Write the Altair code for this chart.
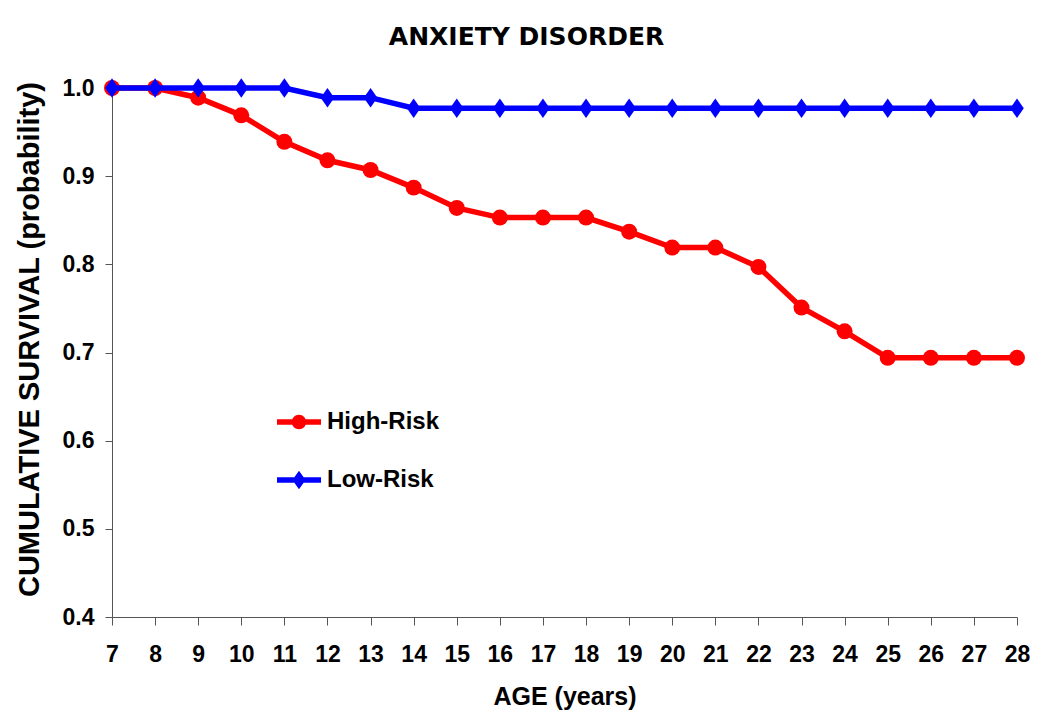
import altair as alt
import pandas as pd

ages = [7, 8, 9, 10, 11, 12, 13, 14, 15, 16, 17, 18, 19, 20, 21, 22, 23, 24, 25, 26, 27, 28]
high_risk = [1.0, 1.0, 0.989, 0.969, 0.939, 0.918, 0.907, 0.887, 0.864, 0.853, 0.853, 0.853,
             0.837, 0.819, 0.819, 0.797, 0.751, 0.724, 0.694, 0.694, 0.694, 0.694]
low_risk = [1.0, 1.0, 1.0, 1.0, 1.0, 0.989, 0.989, 0.977, 0.977, 0.977, 0.977, 0.977,
            0.977, 0.977, 0.977, 0.977, 0.977, 0.977, 0.977, 0.977, 0.977, 0.977]
series_names = ["High-Risk", "Low-Risk"]
series_colors = ["#FF0000", "#0000FF"]
y_ticks = [0.4, 0.5, 0.6, 0.7, 0.8, 0.9, 1.0]

rows = []
for a, v in zip(ages, high_risk):
    rows.append({"age": a, "survival": v, "group": "High-Risk"})
for a, v in zip(ages, low_risk):
    rows.append({"age": a, "survival": v, "group": "Low-Risk"})
df = pd.DataFrame(rows)

diamond = "M0,-1.22L0.85,0L0,1.22L-0.85,0Z"
marker_shapes = ["circle", diamond]
legend_circle = "M-1,-0.12H1V0.12H-1Z M0,-0.33A0.33,0.33 0 1,1 0,0.33A0.33,0.33 0 1,1 0,-0.33Z"
legend_diamond = "M-1,-0.12H1V0.12H-1Z M0,-0.42L0.3,0L0,0.42L-0.3,0Z"

color_scale = alt.Scale(domain=series_names, range=series_colors)
legend_shape_scale = alt.Scale(domain=series_names, range=[legend_circle, legend_diamond])

x_enc = alt.X(
    "age:Q",
    scale=alt.Scale(domain=[7, 28], nice=False, zero=False),
    axis=alt.Axis(values=ages, title="AGE (years)", format="d", grid=False,
                  tickSize=8, labelPadding=18, titlePadding=18,
                  titleFontSize=25, labelFlush=False, labelOverlap=False),
)
y_enc = alt.Y(
    "survival:Q",
    scale=alt.Scale(domain=[0.4, 1.0], nice=False, zero=False),
    axis=alt.Axis(values=y_ticks, format=".1f", grid=False,
                  title="CUMULATIVE SURVIVAL (probability)",
                  tickSize=7, labelPadding=11, titlePadding=18,
                  titleFontSize=29, titleY=251, labelFlush=False),
)

legend = alt.Legend(
    title=None, orient="none", legendX=165, legendY=312, padding=0,
    symbolSize=1936, symbolStrokeWidth=0, rowPadding=24, labelOffset=6,
    labelFont="Liberation Sans", labelFontWeight="bold", labelFontSize=24,
    labelColor="black", symbolOpacity=1,
)

layers = []
for name, shp in zip(series_names, marker_shapes):
    base = alt.Chart(df).transform_filter(alt.datum.group == name)
    line = base.mark_line(strokeWidth=5.5).encode(
        x=x_enc, y=y_enc,
        color=alt.Color("group:N", scale=color_scale, legend=None),
    )
    pts = base.mark_point(filled=True, size=255, opacity=1, shape=shp).encode(
        x=x_enc, y=y_enc,
        color=alt.Color("group:N", scale=color_scale, legend=None),
    )
    layers += [line, pts]

# invisible layer that only carries the legend (line + marker symbols)
legend_layer = alt.Chart(df).mark_point(filled=True, size=0).encode(
    x=x_enc, y=y_enc,
    color=alt.Color("group:N", scale=color_scale, legend=legend),
    shape=alt.Shape("group:N", scale=legend_shape_scale, legend=legend),
)
layers.insert(0, legend_layer)

chart = alt.layer(*layers).properties(
    width=905, height=529,
    autosize=alt.AutoSizeParams(type="none"),
    padding={"left": 104, "top": 80, "right": 25, "bottom": 96},
    background="white",
    title=alt.Title("ANXIETY DISORDER", font="DejaVu Sans", fontSize=25,
                    fontWeight="bold", color="black", anchor="middle",
                    frame="group", offset=27, dx=-38),
).configure_view(stroke=None).configure_axis(
    domainColor="#555555", domainWidth=1, tickColor="#555555", tickWidth=1,
    labelFont="Liberation Sans", labelFontWeight="bold", labelFontSize=23,
    labelColor="black", titleFont="Liberation Sans", titleFontWeight="bold",
    titleColor="black",
)

chart.save("out.html", embed_options={"renderer": "svg", "actions": False})
